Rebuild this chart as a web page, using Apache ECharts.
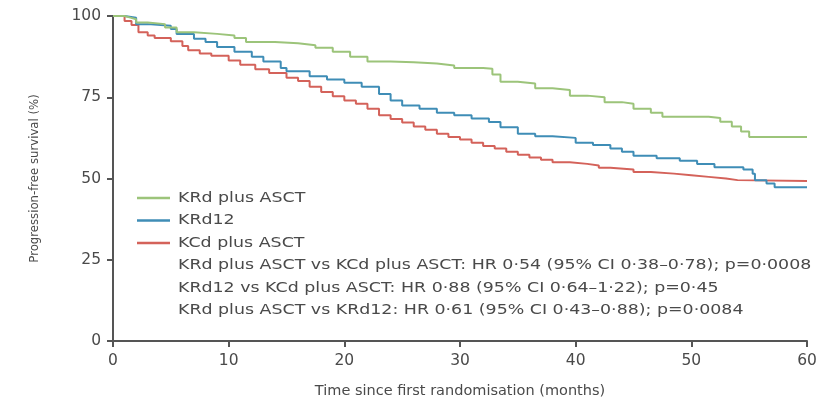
<!DOCTYPE html>
<html>
<head>
<meta charset="utf-8">
<script src="https://cdn.jsdelivr.net/npm/echarts@6/dist/echarts.min.js"></script>
<style>
  html, body { margin: 0; padding: 0; background: #fff; }
  #chart { width: 833px; height: 405px; }
</style>
</head>
<body>
<div id="chart"></div>
<script>
// Kaplan-Meier progression-free survival estimates: [month, % event-free]
const krdAsct = [[0,100],[1,99.5],[1.5,99],[2,98],[3,97.5],[4.5,96.5],[5.5,95],[7,94.5],[9,94],[10.5,93.2],[11.5,92],[14,91.6],[16,91],[17.5,90.2],[19,89],[20.5,87.5],[22,86],[24,85.8],[26,85.4],[28,84.8],[29.5,84],[32,83.8],[32.8,82],[33.5,79.8],[35,79.2],[36.5,77.8],[38,77.2],[39.5,75.5],[41,75],[42.5,73.5],[44,73],[45,71.5],[46.5,70.2],[47.5,69],[51.5,68.6],[52.5,67.5],[53.5,66],[54.3,64.5],[55,62.8],[60,62.8]];
const krd12 = [[0,100],[1,99.5],[2,97.5],[3,97],[5,96],[5.5,94.5],[7,93],[8,92],[9,90.5],[10.5,89],[12,87.5],[13,86],[14.5,84],[15,83],[17,81.5],[18.5,80.5],[20,79.5],[21.5,78.2],[23,76],[24,74],[25,72.5],[26.5,71.5],[28,70.2],[29.5,69.5],[31,68.5],[32.5,67.4],[33.5,65.8],[35,63.8],[36.5,63],[38,62.5],[40,61],[41.5,60.3],[43,59.2],[44,58.2],[45,57],[47,56.2],[49,55.5],[50.5,54.5],[52,53.5],[54.5,52.8],[55.3,51.5],[55.5,49.5],[56.5,48.5],[57.2,47.3],[60,47.3]];
const kcdAsct = [[0,100],[1,98.5],[1.6,97.2],[2.2,95],[3,94],[3.6,93.2],[5,92.2],[6,90.8],[6.5,89.5],[7.5,88.5],[8.5,87.8],[10,86.3],[11,85],[12.3,83.6],[13.5,82.5],[15,81],[16,80],[17,78.2],[18,76.6],[19,75.3],[20,74],[21,73],[22,71.5],[23,69.5],[24,68.3],[25,67.2],[26,66],[27,65],[28,63.8],[29,62.8],[30,62],[31,61],[32,60],[33,59.2],[34,58.2],[35,57.3],[36,56.5],[37,55.8],[38,55],[39.5,54.5],[41,54],[42,53.3],[43,52.8],[45,52],[46.5,51.5],[48.5,51],[50,50.5],[51.5,50],[53,49.5],[54,49.2],[60,49.2]];

const seriesNames = ['KRd plus ASCT', 'KRd12', 'KCd plus ASCT'];
const statLines = [
  'KRd plus ASCT vs KCd plus ASCT: HR 0·54 (95% CI 0·38–0·78); p=0·0008',
  'KRd12 vs KCd plus ASCT: HR 0·88 (95% CI 0·64–1·22); p=0·45',
  'KRd plus ASCT vs KRd12: HR 0·61 (95% CI 0·43–0·88); p=0·0084'
];
const xTicks = { min: 0, max: 60, interval: 10 };
const yTicks = { min: 0, max: 100, interval: 25 };

const colors = ['#9cc47a', '#3f8db6', '#d4625a'];
const axisColor = '#555';
const textColor = '#4a4a4a';
const font = 'DejaVu Sans';

// Key block: three swatch rows followed by the hazard-ratio notes,
// set in a slightly widened face.
const keyLeft = 137, keyTop = 198, rowStep = 22.5, swatchLen = 33, textLeft = 178, widen = 1.2;
const keyText = (text, row) => ({
  type: 'text',
  x: textLeft,
  y: keyTop + row * rowStep,
  scaleX: widen,
  style: { text, fill: textColor, font: '14.5px "' + font + '"', textVerticalAlign: 'middle', textAlign: 'left' },
  silent: true
});
const keyGraphics = [];
seriesNames.forEach((name, i) => {
  keyGraphics.push({
    type: 'line',
    shape: { x1: keyLeft, y1: keyTop + i * rowStep, x2: keyLeft + swatchLen, y2: keyTop + i * rowStep },
    style: { stroke: colors[i], lineWidth: 2.5 },
    silent: true
  });
  keyGraphics.push(keyText(name, i));
});
statLines.forEach((line, j) => keyGraphics.push(keyText(line, seriesNames.length + j)));

const chart = echarts.init(document.getElementById('chart'), null, { renderer: 'canvas' });

chart.setOption({
  animation: false,
  backgroundColor: '#fff',
  grid: { left: 113, right: 26, top: 16, bottom: 64 },
  graphic: keyGraphics,
  xAxis: {
    type: 'value',
    min: xTicks.min, max: xTicks.max, interval: xTicks.interval,
    name: 'Time since first randomisation (months)',
    nameLocation: 'middle',
    nameGap: 43,
    nameTextStyle: { fontFamily: font, fontSize: 14.5, color: textColor },
    axisLine: { show: true, onZero: false, lineStyle: { color: axisColor, width: 2 } },
    axisTick: { show: true, length: 6, lineStyle: { color: axisColor, width: 2 } },
    axisLabel: { fontFamily: font, fontSize: 15.5, color: textColor, margin: 12 },
    splitLine: { show: false }
  },
  yAxis: {
    type: 'value',
    min: yTicks.min, max: yTicks.max, interval: yTicks.interval,
    name: 'Progression-free survival (%)',
    nameLocation: 'middle',
    nameGap: 72,
    nameTextStyle: { fontFamily: 'DejaVu Sans Condensed', fontSize: 13, color: textColor },
    axisLine: { show: true, onZero: false, lineStyle: { color: axisColor, width: 2 } },
    axisTick: { show: true, length: 6, lineStyle: { color: axisColor, width: 2 } },
    axisLabel: { fontFamily: font, fontSize: 15.5, color: textColor, margin: 12 },
    splitLine: { show: false }
  },
  series: [
    { name: seriesNames[0], data: krdAsct },
    { name: seriesNames[1], data: krd12 },
    { name: seriesNames[2], data: kcdAsct }
  ].map((s, i) => ({
    ...s,
    type: 'line',
    step: 'end',
    showSymbol: false,
    symbol: 'none',
    color: colors[i],
    lineStyle: { color: colors[i], width: 2 },
    z: 3 - i
  }))
});
</script>
</body>
</html>
